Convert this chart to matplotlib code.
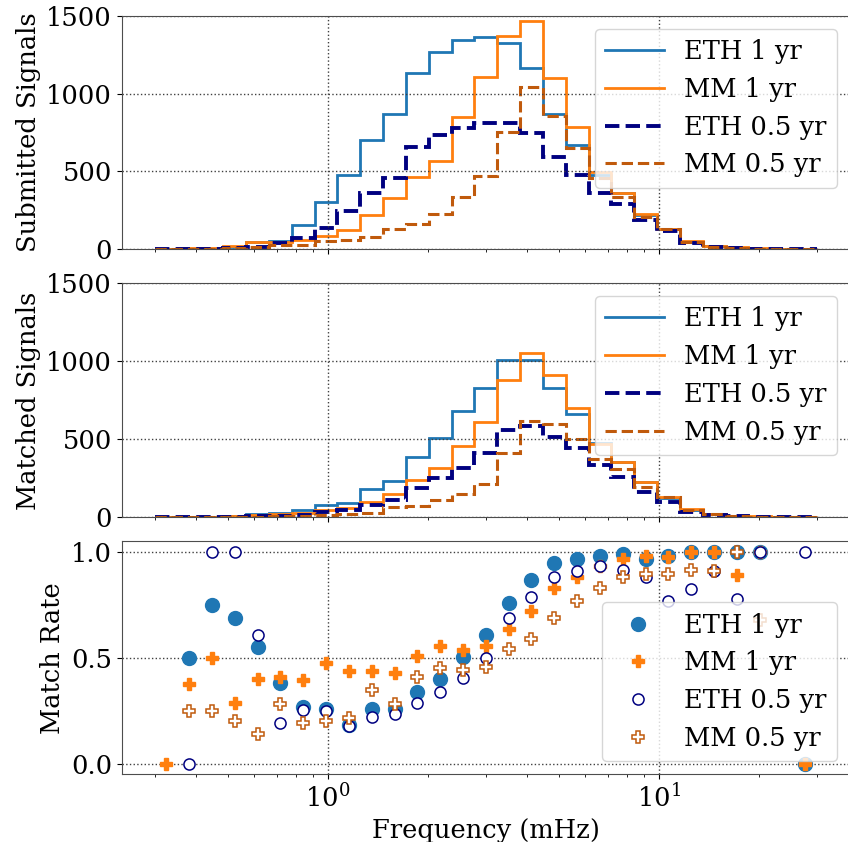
import numpy as np
import matplotlib
matplotlib.use("Agg")
from matplotlib import pyplot as plt

plt.rcParams['font.family'] = 'serif'
plt.rcParams['font.serif'] = ['DejaVu Serif']
plt.rcParams['mathtext.fontset'] = 'dejavuserif'
plt.rcParams['font.size'] = 18.5

# 29 log-spaced frequency bins (mHz)
edges = np.geomspace(0.3, 30, 30)
centers = np.sqrt(edges[:-1] * edges[1:])

labels = ["ETH 1 yr", "MM 1 yr", "ETH 0.5 yr", "MM 0.5 yr"]

# submitted signals per bin
sub_eth1 = [0, 4, 4, 15, 49, 55, 154, 302, 477, 702, 871, 1130, 1265, 1346, 1361,
            1322, 1162, 867, 669, 480, 363, 220, 128, 49, 23, 10, 5, 0, 2]
sub_mm1 = [2, 6, 6, 21, 45, 50, 60, 88, 124, 220, 331, 462, 565, 849, 1104,
           1372, 1468, 1102, 787, 498, 363, 225, 132, 53, 23, 12, 6, 0, 2]
sub_eth05 = [0, 2, 2, 6, 17, 38, 72, 139, 248, 360, 460, 659, 734, 779, 813,
             809, 745, 595, 477, 360, 291, 188, 119, 38, 16, 8, 4, 0, 1]
sub_mm05 = [0, 4, 4, 8, 17, 25, 30, 52, 58, 77, 128, 162, 229, 336, 471,
            755, 1044, 858, 652, 456, 338, 209, 128, 49, 18, 9, 4, 0, 0]

# matched signals per bin
mat_eth1 = [0, 2, 3, 8, 22, 25, 47, 79, 94, 181, 231, 385, 508, 679, 831,
            1008, 1008, 827, 660, 474, 352, 224, 126, 47, 19, 10, 5, 0, 0]
mat_mm1 = [0, 2, 3, 6, 18, 20, 30, 45, 60, 100, 147, 237, 316, 457, 611,
           878, 1055, 912, 703, 470, 352, 224, 132, 51, 19, 11, 6, 0, 0]
mat_eth05 = [0, 0, 2, 4, 8, 10, 18, 35, 47, 79, 111, 190, 250, 314, 410,
             560, 587, 517, 442, 335, 260, 164, 96, 36, 15, 6, 4, 0, 1]
mat_mm05 = [0, 1, 1, 2, 3, 7, 7, 12, 21, 30, 64, 72, 111, 149, 216,
            414, 619, 596, 500, 372, 308, 192, 132, 47, 19, 9, 3, 0, 0]

nan = np.nan
# match rate per bin
rate_eth1 = [nan, 0.50, 0.748, 0.685, 0.551, 0.382, 0.265, 0.257, 0.183, 0.258,
             0.258, 0.340, 0.397, 0.501, 0.609, 0.757, 0.867, 0.947, 0.967, 0.981,
             0.989, 0.967, 0.978, 0.998, 1.0, 1.0, 1.0, nan, 0.0]
rate_mm1 = [0.0, 0.376, 0.50, 0.285, 0.399, 0.41, 0.394, 0.477, 0.437, 0.437,
            0.426, 0.507, 0.556, 0.538, 0.554, 0.635, 0.718, 0.828, 0.878, 0.931,
            0.966, 0.978, 0.973, 1.0, 1.0, 0.89, 1.0, nan, 0.0]
rate_eth05 = [nan, 0.0, 1.0, 1.0, 0.609, 0.194, 0.254, 0.249, 0.177, 0.222,
              0.235, 0.285, 0.337, 0.405, 0.50, 0.687, 0.786, 0.878, 0.909, 0.931,
              0.914, 0.878, 0.767, 0.823, 0.909, 0.778, 1.0, nan, 1.0]
rate_mm05 = [nan, 0.249, 0.25, 0.199, 0.142, 0.282, 0.194, 0.203, 0.214, 0.347,
             0.282, 0.407, 0.452, 0.444, 0.454, 0.543, 0.590, 0.687, 0.765, 0.829,
             0.879, 0.895, 0.895, 0.914, 0.91, 1.0, 0.676, nan, nan]

c_eth1 = '#1f77b4'
c_mm1 = '#ff7f0e'
c_eth05 = 'navy'
c_mm05 = '#c05a0c'

line_styles = [dict(color=c_eth1, lw=2.0),
               dict(color=c_mm1, lw=2.0),
               dict(color=c_eth05, lw=2.8, ls='--'),
               dict(color=c_mm05, lw=2.2, ls='--')]

fig = plt.figure(figsize=(8.48, 8.42), dpi=100)
ax1 = fig.add_axes([0.1435, 0.7039, 0.8588, 0.2774])
ax2 = fig.add_axes([0.1435, 0.3856, 0.8588, 0.2779], sharex=ax1)
ax3 = fig.add_axes([0.1435, 0.0804, 0.8588, 0.2771], sharex=ax1)

for ax, series in [(ax1, [sub_eth1, sub_mm1, sub_eth05, sub_mm05]),
                   (ax2, [mat_eth1, mat_mm1, mat_eth05, mat_mm05])]:
    for vals, lab, st in zip(series, labels, line_styles):
        ax.stairs(vals, edges, label=lab, **st)
    ax.set_ylim(0, 1500)
    ax.set_yticks([0, 500, 1000, 1500])
    ax.legend(loc='upper right', handlelength=2.3)
    ax.tick_params(labelbottom=False)

ax1.set_xscale('log')
ax1.set_ylabel("Submitted Signals")
ax2.set_ylabel("Matched Signals")

ax3.plot(centers, rate_eth1, 'o', color=c_eth1, ms=10, label=labels[0])
ax3.plot(centers, rate_mm1, 'P', color=c_mm1, ms=8, label=labels[1])
ax3.plot(centers, rate_eth05, 'o', mfc='white', mec=c_eth05, mew=1.1, ms=8, label=labels[2])
ax3.plot(centers, rate_mm05, 'P', mfc='white', mec=c_mm05, mew=1.1, ms=8, label=labels[3])
ax3.set_ylabel("Match Rate")
ax3.set_xlabel("Frequency (mHz)")
ax3.set_yticks([0.0, 0.5, 1.0])
ax3.legend(loc='lower right')

for ax in [ax1, ax2, ax3]:
    ax.grid(True, which='major', ls=':', color='0.25', lw=1.0)
    for sp in ax.spines.values():
        sp.set_color('0.3')

fig.savefig('out.png', dpi=100)
